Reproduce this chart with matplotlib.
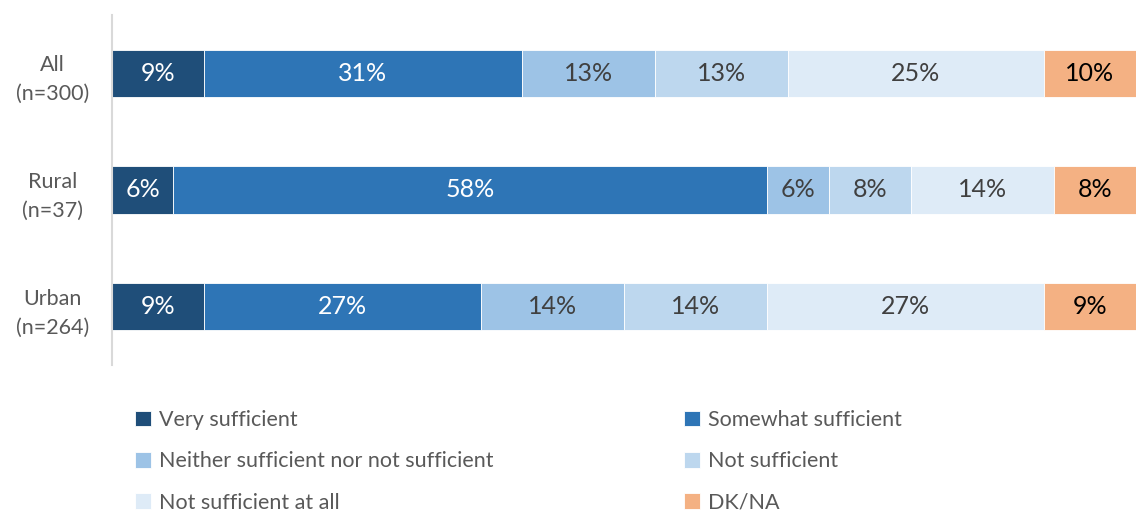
import numpy as np
import matplotlib
matplotlib.use("Agg")
import matplotlib.pyplot as plt

plt.rcParams['font.family'] = ['Lato', 'DejaVu Sans']

# survey groups and answer shares (%)
groups = ['All\n(n=300)', 'Rural\n(n=37)', 'Urban\n(n=264)']
answers = ['Very sufficient', 'Somewhat sufficient',
           'Neither sufficient nor not sufficient', 'Not sufficient',
           'Not sufficient at all', 'DK/NA']
very = [9, 6, 9]
somewhat = [31, 58, 27]
neither = [13, 6, 14]
not_suff = [13, 8, 14]
not_at_all = [25, 14, 27]
dk_na = [10, 8, 9]

colors = ['#1f4e79', '#2e75b6', '#9dc3e6', '#bdd7ee', '#deebf7', '#f4b183']
text_colors = ['white', 'white', '#404040', '#404040', '#404040', 'black']

series = [very, somewhat, neither, not_suff, not_at_all, dk_na]

fig = plt.figure(figsize=(11.36, 5.12), dpi=100)
ax = fig.add_axes([0.0986, 0.287, 0.9014, 0.684])

y = np.arange(len(groups))
left = np.zeros(len(groups))
bars = []
for vals, name, col, tcol in zip(series, answers, colors, text_colors):
    vals = np.array(vals, dtype=float)
    b = ax.barh(y, vals, left=left, height=0.405, color=col,
                edgecolor='white', linewidth=0.6, label=name)
    bars.append(b)
    for yi, (l, v) in enumerate(zip(left, vals)):
        right = min(l + v, 100)
        ax.text((l + right) / 2, yi, f'{int(v)}%', ha='center', va='center',
                color=tcol, fontsize=18)
    left += vals

ax.set_xlim(0, 100)
ax.set_ylim(2.5, -0.5)
ax.set_yticks(y)
ax.set_yticklabels(groups, fontsize=15.5, color='#595959', ha='center',
                   linespacing=1.55)
ax.tick_params(axis='y', length=0, pad=43)
ax.set_xticks([])
for s in ['top', 'right', 'bottom']:
    ax.spines[s].set_visible(False)
ax.spines['left'].set_color('#d9d9d9')
ax.spines['left'].set_linewidth(1.5)

# legend: two columns, filled row by row
order = [0, 2, 4, 1, 3, 5]
leg = fig.legend([bars[i] for i in order], [answers[i] for i in order],
                 ncol=2, loc='upper left', bbox_to_anchor=(0.119, 0.199),
                 frameon=False, fontsize=15.5, handlelength=0.75,
                 handleheight=0.75, handletextpad=0.35, columnspacing=8.85,
                 labelspacing=0.99, borderpad=0, borderaxespad=0)
for t in leg.get_texts():
    t.set_color('#595959')

fig.savefig('out.png', dpi=100)
